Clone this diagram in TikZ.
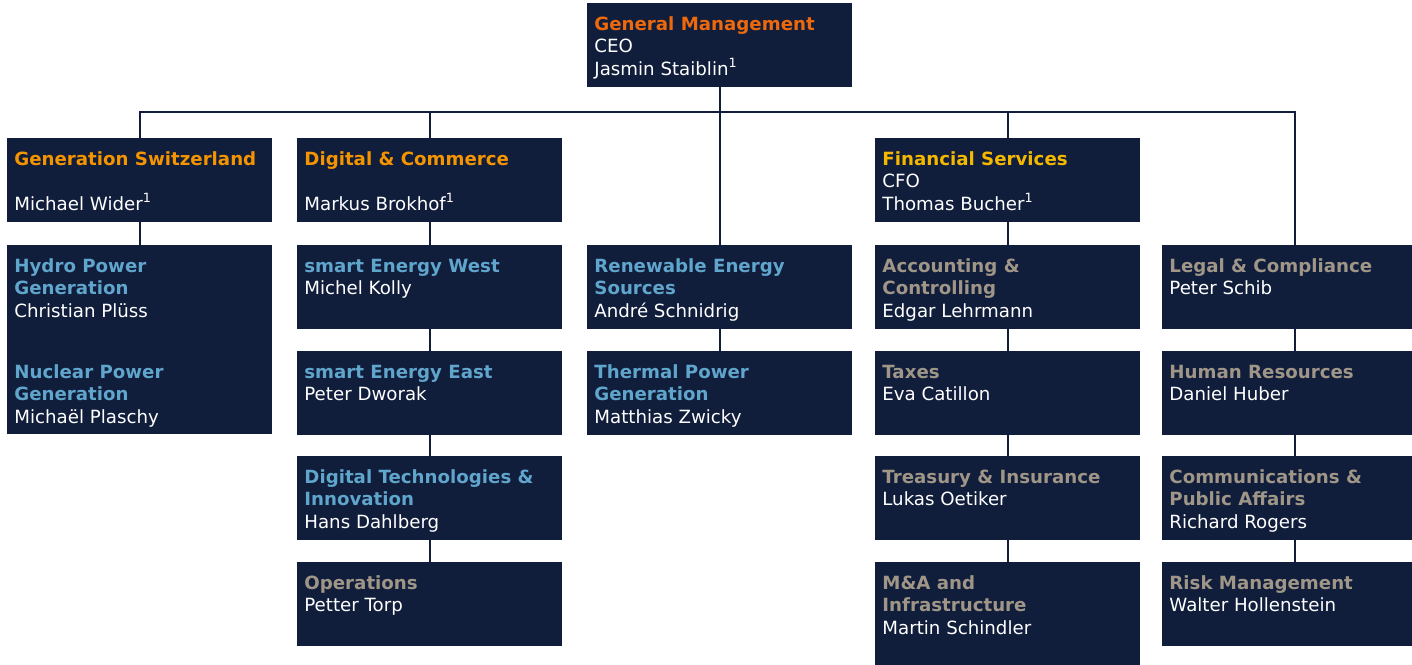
\documentclass[tikz,border=0pt]{standalone}
\usepackage{fontspec}
\setmainfont{DejaVu Sans}
\usepackage{tikz}
\usetikzlibrary{positioning, calc}
\pgfdeclarelayer{bg}
\pgfsetlayers{bg,main}
\usepackage{color}

\definecolor{navy}{RGB}{16,29,59}
\definecolor{gmorange}{RGB}{238,104,12}
\definecolor{divorange}{RGB}{244,148,0}
\definecolor{finyellow}{RGB}{245,184,0}
\definecolor{subblue}{RGB}{95,165,204}
\definecolor{subgrey}{RGB}{160,150,136}

% box text: first baseline fixed, box height fixed
\newcommand{\boxtext}[2][41.75pt]{\parbox[c][#1][t]{125.5pt}{\raggedright\rule{0pt}{13.5pt}#2}}
\newcommand{\ttl}[2]{\textcolor{#1}{\bfseries #2}}

\begin{document}
\begin{tikzpicture}[x=0.5pt, y=-0.5pt,
    unit/.style={fill=navy, text=white, anchor=north west, inner xsep=3.5pt, inner ysep=0pt,
                 font=\fontsize{9.1}{11.25}\selectfont},
    link/.style={draw=navy, line width=0.9pt}]
    \useasboundingbox (0,0) rectangle (1412,664);
    \clip (0,0) rectangle (1412,664);

    \node [unit] (ceo) at (587,3) { \boxtext{\ttl{gmorange}{General Management}\\CEO\\Jasmin Staiblin\textsuperscript{1}} };

    % divisions
    \node [unit] (gensw) at (7,138) { \boxtext{\ttl{divorange}{Generation Switzerland}\\[11.25pt]Michael Wider\textsuperscript{1}} };
    \node [unit] (digcom) at (297,138) { \boxtext{\ttl{divorange}{Digital \& Commerce}\\[11.25pt]Markus Brokhof\textsuperscript{1}} };
    \node [unit] (finserv) at (875,138) { \boxtext{\ttl{finyellow}{Financial Services}\\CFO\\Thomas Bucher\textsuperscript{1}} };

    % business units
    \node [unit] (hydronuc) at (7,245) { \boxtext[94.25pt]{\ttl{subblue}{Hydro Power\\Generation}\\Christian Plüss\\[19.25pt]\ttl{subblue}{Nuclear Power\\Generation}\\Michaël Plaschy} };
    \node [unit] (smartwest) at (297,245) { \boxtext{\ttl{subblue}{smart Energy West}\\Michel Kolly} };
    \node [unit] (smarteast) at (297,351) { \boxtext{\ttl{subblue}{smart Energy East}\\Peter Dworak} };
    \node [unit] (digtech) at (297,456) { \boxtext{\ttl{subblue}{Digital Technologies \&\\Innovation}\\Hans Dahlberg} };
    \node [unit] (operations) at (297,562) { \boxtext{\ttl{subgrey}{Operations}\\Petter Torp} };
    \node [unit] (renew) at (587,245) { \boxtext{\ttl{subblue}{Renewable Energy\\Sources}\\André Schnidrig} };
    \node [unit] (thermal) at (587,351) { \boxtext{\ttl{subblue}{Thermal Power\\Generation}\\Matthias Zwicky} };

    % functions
    \node [unit] (account) at (875,245) { \boxtext{\ttl{subgrey}{Accounting \&\\Controlling}\\Edgar Lehrmann} };
    \node [unit] (taxes) at (875,351) { \boxtext{\ttl{subgrey}{Taxes}\\Eva Catillon} };
    \node [unit] (treasury) at (875,456) { \boxtext{\ttl{subgrey}{Treasury \& Insurance}\\Lukas Oetiker} };
    \node [unit] (mna) at (875,562) { \boxtext[56pt]{\ttl{subgrey}{M\&A and\\Infrastructure}\\Martin Schindler} };
    \node [unit] (legal) at (1162,245) { \boxtext{\ttl{subgrey}{Legal \& Compliance}\\Peter Schib} };
    \node [unit] (hr) at (1162,351) { \boxtext{\ttl{subgrey}{Human Resources}\\Daniel Huber} };
    \node [unit] (comms) at (1162,456) { \boxtext{\ttl{subgrey}{Communications \&\\Public Affairs}\\Richard Rogers} };
    \node [unit] (risk) at (1162,562) { \boxtext{\ttl{subgrey}{Risk Management}\\Walter Hollenstein} };

    \coordinate (bus) at (719.5,112);

    \begin{pgfonlayer}{bg}
        \draw [link] (ceo.south) -- (renew.north);
        \draw [link] (gensw.north) |- (bus);
        \draw [link] (digcom.north) |- (bus);
        \draw [link] (finserv.north) |- (bus);
        \draw [link] (legal.north) |- (bus);
        \draw [link] (gensw) -- (hydronuc);
        \draw [link] (digcom) -- (smartwest) -- (smarteast) -- (digtech) -- (operations);
        \draw [link] (renew) -- (thermal);
        \draw [link] (finserv) -- (account) -- (taxes) -- (treasury) -- (mna);
        \draw [link] (legal) -- (hr) -- (comms) -- (risk);
    \end{pgfonlayer}
\end{tikzpicture}
\end{document}
